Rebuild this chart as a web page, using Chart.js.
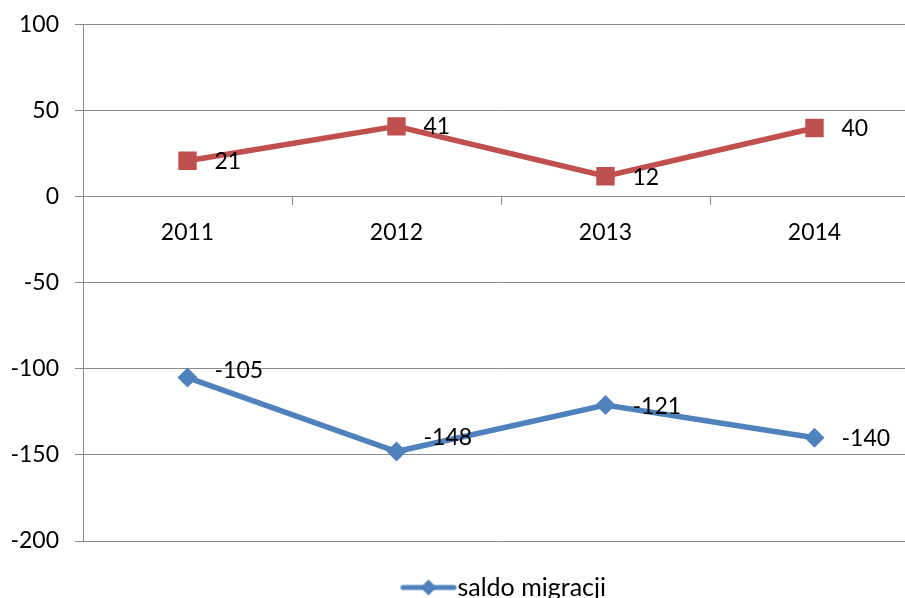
<!DOCTYPE html>
<html>
<head>
<meta charset="utf-8">
<script src="https://cdn.jsdelivr.net/npm/chart.js@4"></script>
<style>
    html, body { margin: 0; padding: 0; background: #fff; overflow: hidden; }
    #wrap { width: 1008px; height: 615px; margin-top: -5px; }
</style>
</head>
<body>
<div id="wrap"><canvas id="chart" width="1008" height="615"></canvas></div>
<script>
// 数据
const years = ['2011', '2012', '2013', '2014'];
const saldoMigracji = [-105, -148, -121, -140];
const przyrostNaturalny = [21, 41, 12, 40];
const yTicks = [-200, -150, -100, -50, 0, 50, 100];

// 标签的垂直微调（原图中标签被手动挪过）
const labelShiftY = [[-7, -14, 2, 1], [1, 0, 1, 1]];

const BLUE = '#4F81BD';
const RED = '#C0504D';
const GRID = '#8a8a8a';
const FONT = { family: 'Lato', size: 23 };
const LEGEND_FONT = { family: 'Lato', size: 25 };

// 图例符号：线 + 菱形
function legendSymbol() {
    const c = document.createElement('canvas');
    c.width = 76;
    c.height = 22;
    const ctx = c.getContext('2d');
    ctx.strokeStyle = BLUE;
    ctx.lineWidth = 5;
    ctx.lineCap = 'round';
    ctx.beginPath();
    ctx.moveTo(17.5, 11);
    ctx.lineTo(68.5, 11);
    ctx.stroke();
    ctx.fillStyle = BLUE;
    ctx.beginPath();
    ctx.moveTo(43, 3);
    ctx.lineTo(51, 11);
    ctx.lineTo(43, 19);
    ctx.lineTo(35, 11);
    ctx.closePath();
    ctx.fill();
    return c;
}

// 数据标签
const valueLabels = {
    id: 'valueLabels',
    afterDatasetsDraw(chart) {
        const ctx = chart.ctx;
        ctx.save();
        ctx.font = `${FONT.size}px ${FONT.family}`;
        ctx.fillStyle = '#000';
        ctx.textAlign = 'left';
        ctx.textBaseline = 'middle';
        chart.data.datasets.forEach((ds, i) => {
            chart.getDatasetMeta(i).data.forEach((pt, j) => {
                ctx.fillText(String(ds.data[j]), pt.x + 27, pt.y + labelShiftY[i][j]);
            });
        });
        ctx.restore();
    }
};

new Chart(document.getElementById('chart'), {
    type: 'line',
    data: {
        labels: years,
        datasets: [{
            label: 'saldo migracji',
            data: saldoMigracji,
            borderColor: BLUE,
            backgroundColor: BLUE,
            borderWidth: 5.5,
            pointStyle: 'rectRot',
            pointRadius: 10,
            pointBorderWidth: 0,
            tension: 0
        }, {
            label: 'przyrost naturalny',
            data: przyrostNaturalny,
            borderColor: RED,
            backgroundColor: RED,
            borderWidth: 5.5,
            pointStyle: 'rect',
            pointRadius: 13,
            pointBorderWidth: 0,
            tension: 0
        }]
    },
    options: {
        responsive: false,
        animation: false,
        layout: { padding: { top: 19, left: 0, right: 0, bottom: 0 } },
        plugins: {
            tooltip: { enabled: false },
            legend: {
                position: 'bottom',
                labels: {
                    color: '#000',
                    font: LEGEND_FONT,
                    padding: 34,
                    usePointStyle: true,
                    pointStyleWidth: 43,
                    generateLabels(chart) {
                        return [{
                            text: 'saldo migracji',
                            pointStyle: legendSymbol(),
                            fillStyle: BLUE,
                            strokeStyle: BLUE,
                            lineWidth: 0,
                            datasetIndex: 0,
                            fontColor: '#000'
                        }];
                    }
                }
            }
        },
        scales: {
            x: {
                position: { y: 0 },
                offset: true,
                grid: {
                    offset: true,
                    drawOnChartArea: false,
                    drawTicks: true,
                    tickLength: 8,
                    color: GRID,
                    lineWidth: 1
                },
                border: { color: GRID, width: 1 },
                ticks: { color: '#000', font: FONT, padding: 14, maxRotation: 0 }
            },
            y: {
                min: -200,
                max: 100,
                afterBuildTicks(scale) {
                    scale.ticks = yTicks.map(v => ({ value: v }));
                },
                afterFit(scale) { scale.width = 83; },
                grid: { color: GRID, lineWidth: 1, tickLength: 8 },
                border: { color: GRID, width: 1 },
                ticks: { color: '#000', font: FONT, padding: 16 }
            },
            pad: {
                position: 'right',
                display: true,
                afterFit(scale) { scale.width = 89; },
                grid: { display: false },
                border: { display: false },
                ticks: { display: false }
            }
        }
    },
    plugins: [valueLabels]
});
</script>
</body>
</html>
